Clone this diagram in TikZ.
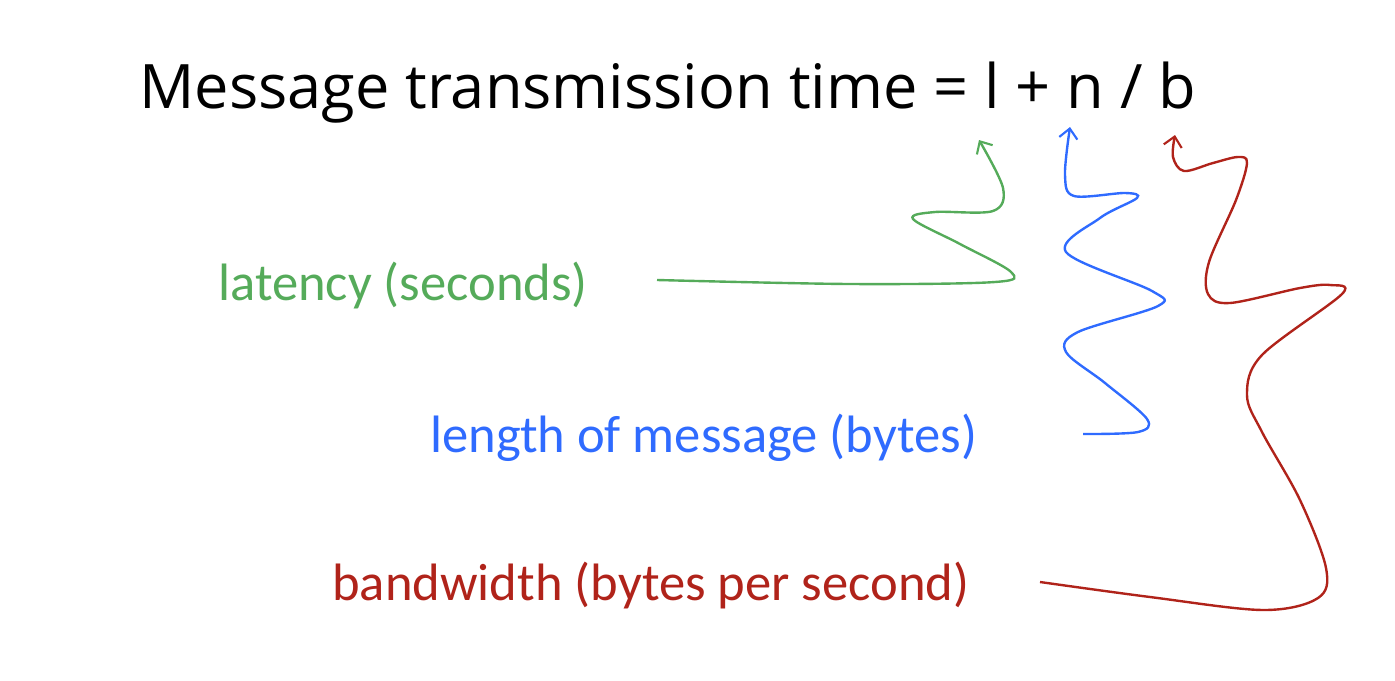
\documentclass[tikz,border=0pt]{standalone}
\usepackage{fontspec}
\setmainfont{Carlito}
\newfontfamily\titlefont{Open Sans}
\usetikzlibrary{arrows.meta}
\definecolor{latgreen}{RGB}{85,171,90}
\definecolor{lenblue}{RGB}{47,107,255}
\definecolor{bwred}{RGB}{176,35,26}

\begin{document}
\begin{tikzpicture}[x=0.025cm, y=-0.025cm,
	lbl/.style={anchor=base west, inner sep=0pt, font=\fontsize{37.4}{44}\selectfont},
	wiggle/.style={line width=1.7pt, -{Straight Barb[length=7pt,width=13pt,line width=1.5pt]}}]
	\useasboundingbox (0,0) rectangle (1395,680);
	\node[anchor=base west, inner sep=0pt, font=\titlefont\fontsize{43.6}{52}\selectfont] (title) at (139,108) {Message transmission time = l + n / b};
	\node[lbl, text=latgreen] (latency) at (218,300) {latency (seconds)};
	\node[lbl, text=lenblue] (msglen) at (430,452) {length of message (bytes)};
	\node[lbl, text=bwred] (bandwidth) at (332,600) {bandwidth (bytes per second)};
	\coordinate (lat from) at (657,280);
	\coordinate (lat to) at (979,140);
	\coordinate (len from) at (1083,434);
	\coordinate (len to) at (1070,127);
	\coordinate (bw from) at (1040,582);
	\coordinate (bw to) at (1175,135);
	\draw[wiggle, latgreen] plot[smooth, tension=0.55] coordinates {(lat from) (850,284) (995,282) (1011,272) (960,244) (913,219) (935,212) (993,211) (1003,188) (lat to)};
	\draw[wiggle, lenblue] plot[smooth, tension=0.55] coordinates {(len from) (1138,432) (1147,419) (1105,383) (1066,352) (1078,332) (1158,306) (1152,291) (1066,252) (1100,218) (1137,198) (1125,193) (1074,196) (1065,175) (len to)};
	\draw[wiggle, bwred] plot[smooth, tension=0.55] coordinates {(bw from) (1150,597) (1263,610) (1318,598) (1326,568) (1300,500) (1262,432) (1247,395) (1262,355) (1342,294) (1330,285) (1300,288) (1230,303) (1208,294) (1209,262) (1236,200) (1247,163) (1238,157) (1213,163) (1184,171) (1173,157) (bw to)};
\end{tikzpicture}
\end{document}
